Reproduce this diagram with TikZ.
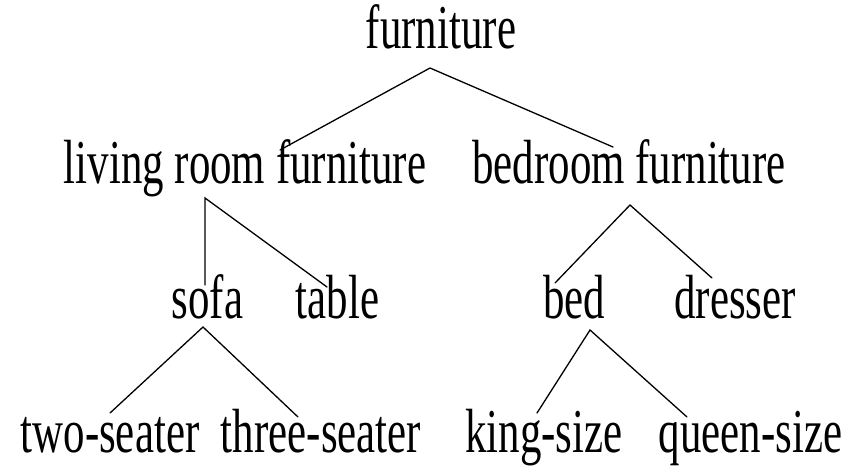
\documentclass[tikz,border=0pt]{standalone}
\usepackage{fontspec}
\setmainfont{Liberation Serif}
\newcommand\sqz[1]{\scalebox{0.715}[1.04]{#1}}
\tikzset{
  lbl/.style={anchor=base, inner sep=0pt, font=\fontsize{60}{60}\selectfont},
  edge/.style={line width=1.3pt, line cap=round}
}
\begin{document}
\begin{tikzpicture}[x=1pt,y=-1pt]
\useasboundingbox (0,0) rectangle (861,466);
% nodes
\node[lbl] (furn)    at (441,48)  {\sqz{furniture}};
\node[lbl] (lrf)     at (245,183) {\sqz{living room furniture}};
\node[lbl] (brf)     at (629,183) {\sqz{bedroom furniture}};
\node[lbl] (sofa)    at (207.5,318) {\sqz{sofa}};
\node[lbl] (table)   at (337.5,318) {\sqz{table}};
\node[lbl] (bed)     at (574,318) {\sqz{bed}};
\node[lbl] (dresser) at (735,318) {\sqz{dresser}};
\node[lbl] (two)     at (110,452) {\sqz{two-seater}};
\node[lbl] (three)   at (321,452) {\sqz{three-seater}};
\node[lbl] (king)    at (544,452) {\sqz{king-size}};
\node[lbl] (queen)   at (750.5,452) {\sqz{queen-size}};
% connector points
\coordinate (a0) at (430,68);
\coordinate (e0l) at (280,150);
\coordinate (e0r) at (613,147);
\coordinate (a1) at (205,198);
\coordinate (e1l) at (205,285);
\coordinate (e1r) at (327,287);
\coordinate (a2) at (630,205);
\coordinate (e2l) at (555,283);
\coordinate (e2r) at (712,278);
\coordinate (a3) at (203,327);
\coordinate (e3l) at (110,413);
\coordinate (e3r) at (298,417);
\coordinate (a4) at (590,330);
\coordinate (e4l) at (537,413);
\coordinate (e4r) at (687,417);
% connectors
\draw[edge] (e0l) -- (a0) -- (e0r);
\draw[edge] (e1l) -- (a1) -- (e1r);
\draw[edge] (e2l) -- (a2) -- (e2r);
\draw[edge] (e3l) -- (a3) -- (e3r);
\draw[edge] (e4l) -- (a4) -- (e4r);
\end{tikzpicture}
\end{document}
